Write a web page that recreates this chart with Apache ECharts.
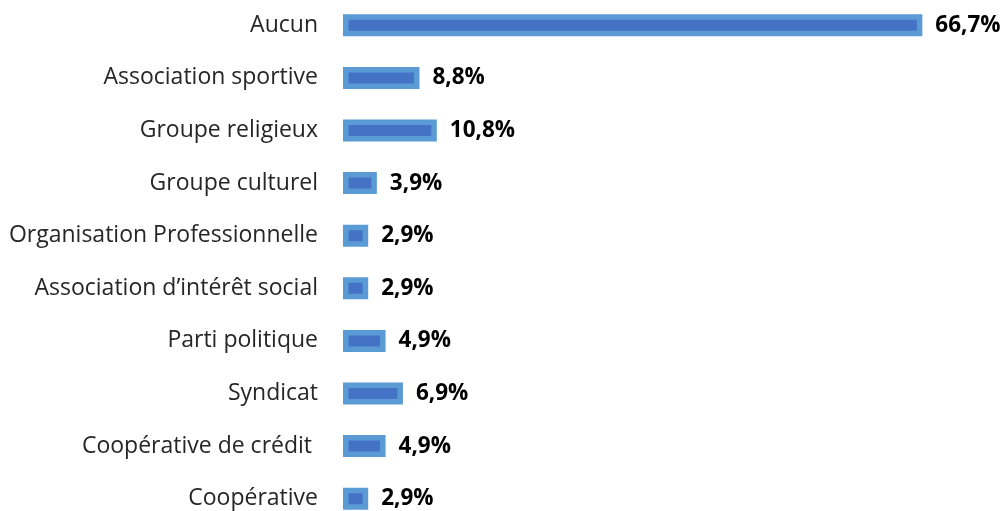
<!DOCTYPE html>
<html>
<head>
<meta charset="utf-8">
<script src="https://cdn.jsdelivr.net/npm/echarts@6/dist/echarts.min.js"></script>
<style>
  html, body { margin: 0; padding: 0; background: #fff; }
  #chart { width: 1005px; height: 511px; }
</style>
</head>
<body>
<div id="chart"></div>
<script>
// Appartenance à une organisation (%)
const categories = [
  'Aucun',
  'Association sportive',
  'Groupe religieux',
  'Groupe culturel',
  'Organisation Professionnelle',
  'Association d\u2019intérêt social',
  'Parti politique',
  'Syndicat',
  'Coopérative de crédit ',
  'Coopérative'
];
const values = [66.7, 8.8, 10.8, 3.9, 2.9, 2.9, 4.9, 6.9, 4.9, 2.9];

const chart = echarts.init(document.getElementById('chart'));
chart.setOption({
  animation: false,
  grid: {
    left: 343, top: -1, height: 526, width: 608,
    outerBoundsMode: 'none', containLabel: false
  },
  xAxis: {
    type: 'value', min: 0, max: 70, show: false
  },
  yAxis: {
    type: 'category', data: categories, inverse: true,
    axisLine: { show: false }, axisTick: { show: false },
    axisLabel: {
      margin: 25, color: '#262626',
      fontFamily: 'Open Sans', fontSize: 23
    }
  },
  series: [{
    type: 'bar',
    data: values,
    barWidth: 22,
    itemStyle: { color: '#4472C4', borderColor: '#5B9BD5', borderWidth: 5.5 },
    label: {
      show: true, position: 'right', distance: 13,
      formatter: p => p.value.toFixed(1).replace('.', ',') + '%',
      color: '#000', fontWeight: 'bold',
      fontFamily: 'Open Sans', fontSize: 22.5
    }
  }]
});
</script>
</body>
</html>
